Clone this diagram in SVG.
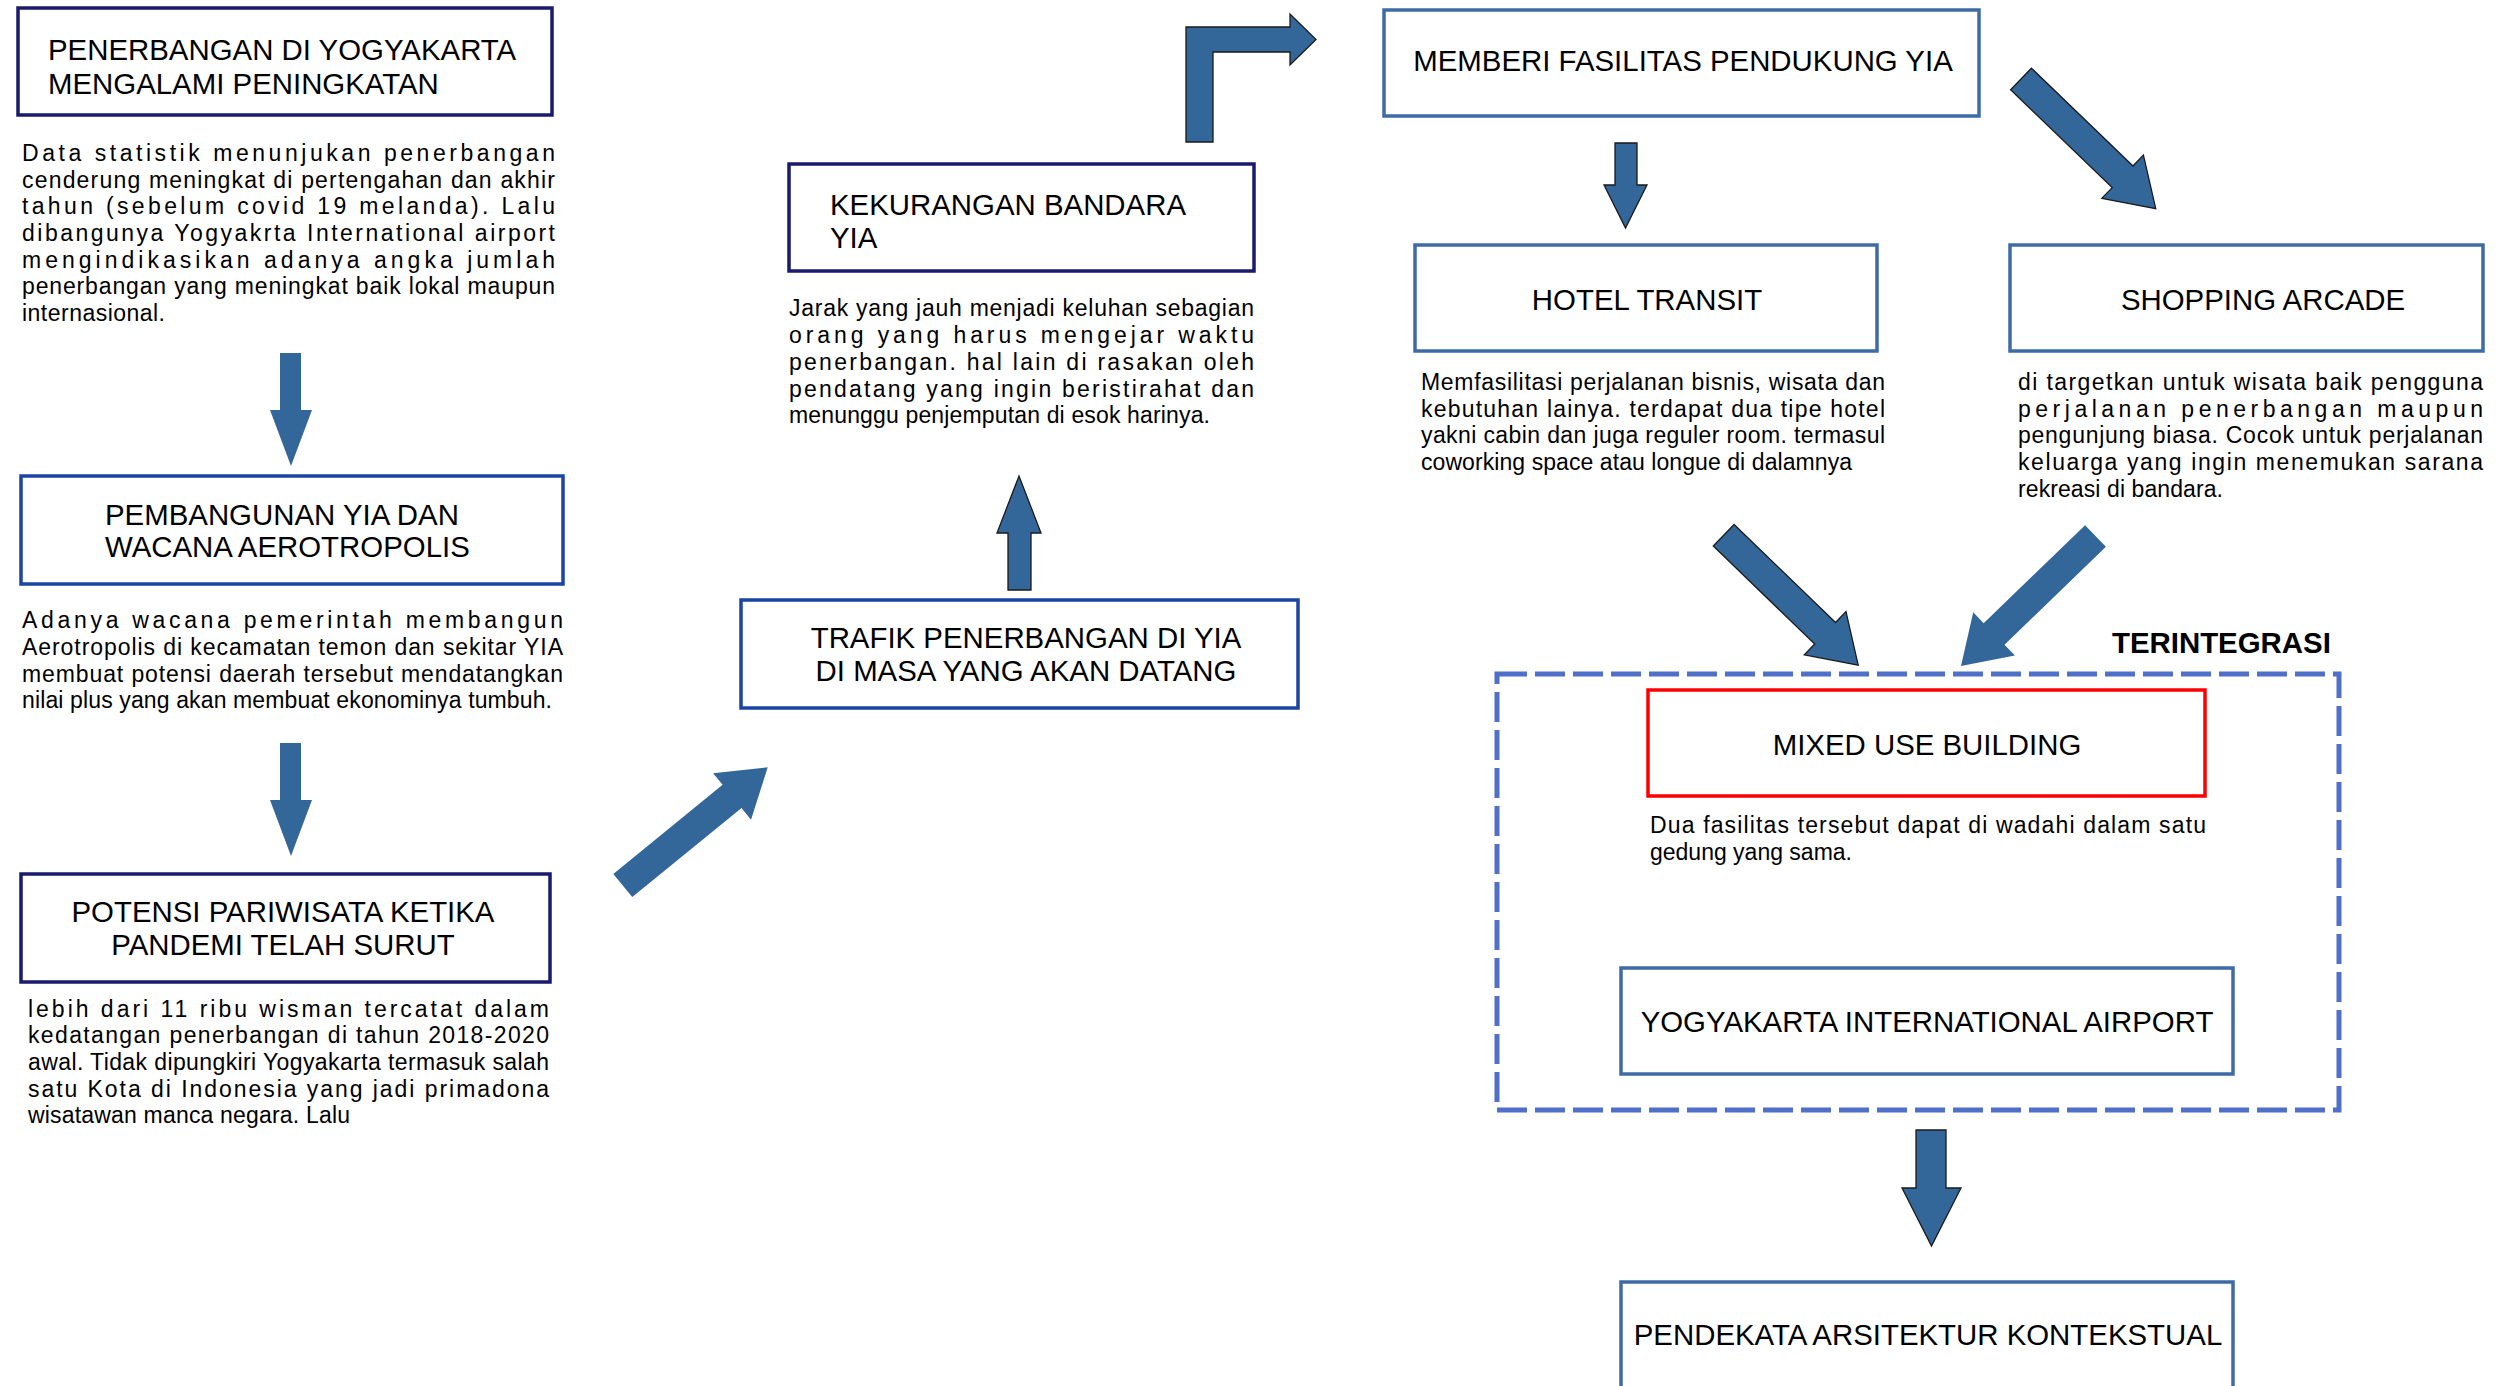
<svg xmlns="http://www.w3.org/2000/svg" xmlns:xlink="http://www.w3.org/1999/xlink" width="2509" height="1386" viewBox="0 0 2509 1386">
<style>
.bg{fill:#ffffff}
.box{fill:#ffffff;stroke-width:3.5}
.navy{stroke:#1a1a6e}
.royal{stroke:#1c44a3}
.steel{stroke:#3e6ba6}
.red{stroke:#ff0000}
.t{font-family:"Liberation Sans",Arial,sans-serif;font-size:29.4px;fill:#000}
.b{font-family:"Liberation Sans",Arial,sans-serif;font-size:23px;fill:#000}
.m{text-anchor:middle}
.arr{fill:#336699}
.ol{stroke:#1a1a1a;stroke-width:1.3}
</style>
<defs>
<path id="diag" d="M0,-15 L141,-15 L141,-30 L187,0 L141,30 L141,15 L0,15 Z"/>
</defs>
<rect class="bg" x="0" y="0" width="2509" height="1386"/>

<g id="connectors">
<polygon class="arr" points="280,353 301,353 301,410 312,410 291,466 270,410 280,410"/>
<polygon class="arr" points="280,743 301,743 301,800 312,800 291,856 270,800 280,800"/>
<use xlink:href="#diag" class="arr" transform="translate(622.8,885.5) rotate(-39.2)"/>
<polygon class="arr ol" points="1008,590 1031,590 1031,533 1041,533 1019,476 997,533 1008,533"/>
<path class="arr ol" d="M1186,142 L1186,27 L1290,27 L1290,14 L1316,39.5 L1290,65 L1290,52 L1213,52 L1213,142 Z"/>
<polygon class="arr ol" points="1615,143 1637,143 1637,185 1647,185 1625.5,228 1604,185 1615,185"/>
<use xlink:href="#diag" class="arr ol" transform="translate(2021,79) rotate(43.9)"/>
<use xlink:href="#diag" class="arr ol" transform="translate(1723.7,535.3) rotate(44)"/>
<use xlink:href="#diag" class="arr" transform="translate(2095.5,536) rotate(136)"/>
<polygon class="arr ol" points="1916,1130 1946,1130 1946,1188 1961,1188 1931.5,1246 1902,1188 1916,1188"/>
</g>

<g id="node-penerbangan">
<rect class="box navy" x="18" y="8" width="534" height="107"/>
<text class="t" x="48" y="60">PENERBANGAN DI YOGYAKARTA</text>
<text class="t" x="48" y="94">MENGALAMI PENINGKATAN</text>
<text class="b" x="22" y="161" textLength="533" lengthAdjust="spacing">Data statistik menunjukan penerbangan</text>
<text class="b" x="22" y="188" textLength="533" lengthAdjust="spacing">cenderung meningkat di pertengahan dan akhir</text>
<text class="b" x="22" y="214" textLength="533" lengthAdjust="spacing">tahun (sebelum covid 19 melanda). Lalu</text>
<text class="b" x="22" y="241" textLength="533" lengthAdjust="spacing">dibangunya Yogyakrta International airport</text>
<text class="b" x="22" y="268" textLength="533" lengthAdjust="spacing">mengindikasikan adanya angka jumlah</text>
<text class="b" x="22" y="294" textLength="533" lengthAdjust="spacing">penerbangan yang meningkat baik lokal maupun</text>
<text class="b" x="22" y="321" textLength="143" lengthAdjust="spacing">internasional.</text>
</g>

<g id="node-pembangunan">
<rect class="box royal" x="21" y="476" width="542" height="108"/>
<text class="t" x="105" y="525">PEMBANGUNAN YIA DAN</text>
<text class="t" x="105" y="557">WACANA AEROTROPOLIS</text>
<text class="b" x="22" y="628" textLength="541" lengthAdjust="spacing">Adanya wacana pemerintah membangun</text>
<text class="b" x="22" y="655" textLength="541" lengthAdjust="spacing">Aerotropolis di kecamatan temon dan sekitar YIA</text>
<text class="b" x="22" y="682" textLength="541" lengthAdjust="spacing">membuat potensi daerah tersebut mendatangkan</text>
<text class="b" x="22" y="708" textLength="530" lengthAdjust="spacing">nilai plus yang akan membuat ekonominya tumbuh.</text>
</g>

<g id="node-potensi">
<rect class="box navy" x="21" y="874" width="529" height="108"/>
<text class="t m" x="283" y="922">POTENSI PARIWISATA KETIKA</text>
<text class="t m" x="283" y="955">PANDEMI TELAH SURUT</text>
<text class="b" x="28" y="1017" textLength="521" lengthAdjust="spacing">lebih dari 11 ribu wisman tercatat dalam</text>
<text class="b" x="28" y="1043" textLength="521" lengthAdjust="spacing">kedatangan penerbangan di tahun 2018-2020</text>
<text class="b" x="28" y="1070" textLength="521" lengthAdjust="spacing">awal. Tidak dipungkiri Yogyakarta termasuk salah</text>
<text class="b" x="28" y="1097" textLength="521" lengthAdjust="spacing">satu Kota di Indonesia yang jadi primadona</text>
<text class="b" x="28" y="1123" textLength="322" lengthAdjust="spacing">wisatawan manca negara. Lalu</text>
</g>

<g id="node-trafik">
<rect class="box royal" x="741" y="600" width="557" height="108"/>
<text class="t m" x="1026" y="648">TRAFIK PENERBANGAN DI YIA</text>
<text class="t m" x="1026" y="681">DI MASA YANG AKAN DATANG</text>
</g>

<g id="node-kekurangan">
<rect class="box navy" x="789" y="164" width="465" height="107"/>
<text class="t" x="830" y="215">KEKURANGAN BANDARA</text>
<text class="t" x="830" y="248">YIA</text>
<text class="b" x="789" y="316" textLength="465" lengthAdjust="spacing">Jarak yang jauh menjadi keluhan sebagian</text>
<text class="b" x="789" y="343" textLength="465" lengthAdjust="spacing">orang yang harus mengejar waktu</text>
<text class="b" x="789" y="370" textLength="465" lengthAdjust="spacing">penerbangan. hal lain di rasakan oleh</text>
<text class="b" x="789" y="397" textLength="465" lengthAdjust="spacing">pendatang yang ingin beristirahat dan</text>
<text class="b" x="789" y="423" textLength="421" lengthAdjust="spacing">menunggu penjemputan di esok harinya.</text>
</g>

<g id="node-fasilitas">
<rect class="box steel" x="1384" y="10" width="595" height="106"/>
<text class="t m" x="1683" y="71">MEMBERI FASILITAS PENDUKUNG YIA</text>
</g>

<g id="node-hotel">
<rect class="box steel" x="1415" y="245" width="462" height="106"/>
<text class="t m" x="1647" y="310">HOTEL TRANSIT</text>
<text class="b" x="1421" y="390" textLength="464" lengthAdjust="spacing">Memfasilitasi perjalanan bisnis, wisata dan</text>
<text class="b" x="1421" y="417" textLength="464" lengthAdjust="spacing">kebutuhan lainya. terdapat dua tipe hotel</text>
<text class="b" x="1421" y="443" textLength="464" lengthAdjust="spacing">yakni cabin dan juga reguler room. termasul</text>
<text class="b" x="1421" y="470" textLength="431" lengthAdjust="spacing">coworking space atau longue di dalamnya</text>
</g>

<g id="node-shopping">
<rect class="box steel" x="2010" y="245" width="473" height="106"/>
<text class="t m" x="2263" y="310">SHOPPING ARCADE</text>
<text class="b" x="2018" y="390" textLength="465" lengthAdjust="spacing">di targetkan untuk wisata baik pengguna</text>
<text class="b" x="2018" y="417" textLength="465" lengthAdjust="spacing">perjalanan penerbangan maupun</text>
<text class="b" x="2018" y="443" textLength="465" lengthAdjust="spacing">pengunjung biasa. Cocok untuk perjalanan</text>
<text class="b" x="2018" y="470" textLength="465" lengthAdjust="spacing">keluarga yang ingin menemukan sarana</text>
<text class="b" x="2018" y="497" textLength="205" lengthAdjust="spacing">rekreasi di bandara.</text>
</g>

<g id="group-terintegrasi">
<rect x="1497" y="674" width="842" height="436" fill="none" stroke="#4f6fc8" stroke-width="5" stroke-dasharray="30 8"/>
<text class="t" x="2112" y="653" font-weight="bold">TERINTEGRASI</text>
</g>

<g id="node-mixed">
<rect class="box red" x="1648" y="690" width="557" height="106"/>
<text class="t m" x="1927" y="755">MIXED USE BUILDING</text>
<text class="b" x="1650" y="833" textLength="556" lengthAdjust="spacing">Dua fasilitas tersebut dapat di wadahi dalam satu</text>
<text class="b" x="1650" y="860" textLength="202" lengthAdjust="spacing">gedung yang sama.</text>
</g>

<g id="node-yia">
<rect class="box steel" x="1621" y="968" width="612" height="106"/>
<text class="t m" x="1927" y="1032">YOGYAKARTA INTERNATIONAL AIRPORT</text>
</g>

<g id="node-pendekata">
<rect class="box steel" x="1621" y="1282" width="612" height="130"/>
<text class="t m" x="1928" y="1345">PENDEKATA ARSITEKTUR KONTEKSTUAL</text>
</g>
</svg>
